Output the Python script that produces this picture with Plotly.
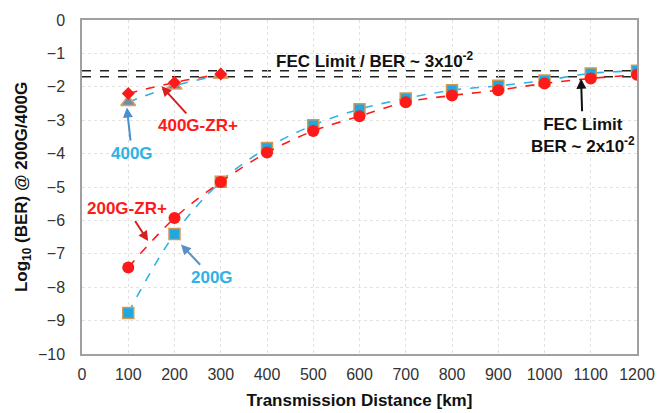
import plotly.graph_objects as go

dist = [100, 200, 300, 400, 500, 600, 700, 800, 900, 1000, 1100, 1200]
ber_200g = [-8.77, -6.41, -4.84, -3.83, -3.15, -2.67, -2.35, -2.1, -1.97, -1.81, -1.6, -1.52]
ber_200g_zr = [-7.41, -5.93, -4.85, -3.97, -3.32, -2.88, -2.46, -2.26, -2.1, -1.9, -1.75, -1.64]
dist_400 = [100, 200, 300]
ber_400g = [-2.46, -1.97, -1.65]
ber_400g_zr = [-2.2, -1.87, -1.62]
fec_3e2 = -1.52
fec_2e2 = -1.70

BLUE = "#2FB2E6"
RED = "#FF1A1A"
FONT = "Liberation Sans, Arial, sans-serif"

fig = go.Figure()
fig.add_trace(go.Scatter(x=dist, y=ber_200g, mode="lines+markers", line=dict(color=BLUE, dash="dash", width=1.6, shape="spline"),
                         marker=dict(symbol="square", size=11, color="#1EA7E0", line=dict(color="#D09A55", width=1.5))))
fig.add_trace(go.Scatter(x=dist, y=ber_200g_zr, mode="lines+markers", line=dict(color=RED, dash="dash", width=1.6, shape="spline"),
                         marker=dict(symbol="circle", size=12, color=RED, line=dict(width=0))))
fig.add_trace(go.Scatter(x=dist_400, y=ber_400g, mode="lines+markers", line=dict(color=BLUE, dash="dash", width=1.6, shape="spline"),
                         marker=dict(symbol="triangle-up", size=13, color="#6F8FA8", line=dict(color="#E3A066", width=1.5))))
fig.add_trace(go.Scatter(x=dist_400, y=ber_400g_zr, mode="lines+markers", line=dict(color=RED, dash="dash", width=1.6, shape="spline"),
                         marker=dict(symbol="diamond", size=10, color=RED, line=dict(width=0))))

for yv in [fec_3e2, fec_2e2]:
    fig.add_shape(type="line", xref="x", yref="y", x0=0, x1=1200, y0=yv, y1=yv,
                  line=dict(color="#222222", dash="dash", width=1.6), layer="below")


def label(text, x, y, color, head=None, arrowcolor=None):
    d = dict(text=text, xref="x", yref="y", font=dict(family=FONT, size=17, color=color))
    if head is None:
        d.update(x=x, y=y, showarrow=False)
    else:
        d.update(x=head[0], y=head[1], ax=x, ay=y, axref="x", ayref="y", showarrow=True,
                 arrowhead=2, arrowsize=1, arrowwidth=2, arrowcolor=arrowcolor or color, standoff=0, startstandoff=2)
    fig.add_annotation(**d)


label("<b>FEC Limit / BER ~ 3x10<sup>-2</sup></b>", 633, -1.19, "#111111")
label("<b>FEC Limit<br>BER ~ 2x10<sup>-2</sup></b>", 1083, -3.45, "#111111", head=(1079, -1.76))
label("<b>400G-ZR+</b>", 250, -3.17, RED, head=(172, -1.98), arrowcolor="#D62020")
label("<b>400G</b>", 108, -4.0, BLUE, head=(97, -2.62), arrowcolor="#4A90D0")
label("<b>200G-ZR+</b>", 97, -5.64, RED, head=(143, -6.62), arrowcolor="#D62020")
label("<b>200G</b>", 281, -7.7, BLUE, head=(214, -6.72), arrowcolor="#5A8FC8")

axis_common = dict(showline=True, linecolor="#A0A0A0", linewidth=1.5, mirror=True,
                   showgrid=True, gridcolor="#E2E2E2", griddash="dot", gridwidth=1,
                   zeroline=False, ticks="", tickfont=dict(family=FONT, size=16, color="#333333"))

fig.update_xaxes(range=[0, 1200], dtick=100, tick0=0, ticklabelstandoff=5, automargin=False,
                 title=dict(text="<b>Transmission Distance [km]</b>", font=dict(family=FONT, size=17, color="#111111"), standoff=12),
                 **axis_common)
fig.update_yaxes(range=[-10, 0], dtick=1, ticklabelstandoff=12,
                 title=dict(text="<b>Log<sub>10</sub> (BER) @ 200G/400G</b>", font=dict(family=FONT, size=17, color="#111111"), standoff=6),
                 **axis_common)

fig.update_layout(width=671, height=413, margin=dict(l=82, r=34, t=17, b=59),
                  paper_bgcolor="white", plot_bgcolor="white", showlegend=False,
                  font=dict(family=FONT))

fig.write_html("out.html")
